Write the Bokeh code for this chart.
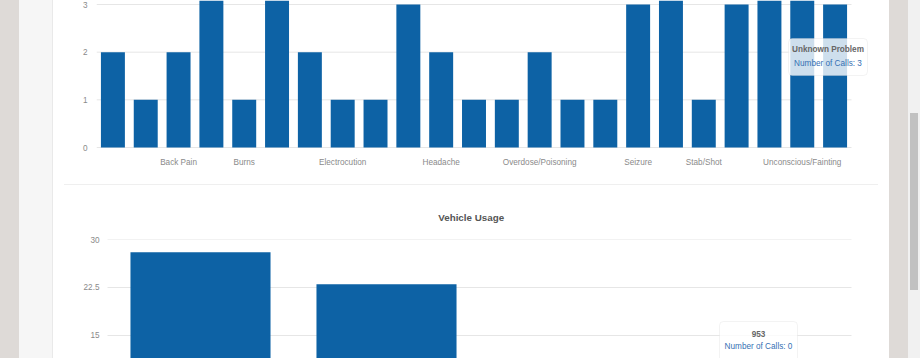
from bokeh.plotting import figure
from bokeh.models import Range1d, Div, BoxAnnotation, Label, FixedTicker, ColumnDataSource
from bokeh.layouts import row, column
from bokeh.embed import file_html
from bokeh.resources import INLINE

# ---------------- data ----------------
complaints = ["Abdominal Pain", "Allergies", "Back Pain", "Breathing Problems", "Burns",
              "Cardiac Arrest", "Chest Pain", "Electrocution", "Eye Problems", "Falls",
              "Headache", "Heart Problems", "Hemorrhage/Lacerations", "Overdose/Poisoning",
              "Pregnancy/Childbirth", "Psychiatric/Suicide", "Seizure", "Sick Person",
              "Stab/Shot", "Stroke", "Traffic Accident", "Unconscious/Fainting", "Unknown Problem"]
complaint_calls = [2, 1, 2, 4, 1, 4, 2, 1, 1, 3, 2, 1, 1, 2, 1, 1, 3, 4, 1, 3, 4, 4, 3]
shown_labels = ["Back Pain", "Burns", "Electrocution", "Headache", "Overdose/Poisoning",
                "Seizure", "Stab/Shot", "Unconscious/Fainting"]
complaint_ticks = [0, 1, 2, 3]

vehicles = ["950", "951", "952", "953"]
vehicle_calls = [28, 23, 0, 0]
vehicle_ticks = [0, 7.5, 15, 22.5, 30]

tip1_title, tip1_text = "Unknown Problem", "Number of Calls: 3"
tip2_title, tip2_text = "953", "Number of Calls: 0"

# ---------------- style ----------------
BAR = "#0d62a5"
GRID = "#e6e6e6"
LABEL = "#8a8a8a"
FONT = "Liberation Sans"
FS = "8.2px"

# shared frame geometry (both plots get identical borders so the column's
# frame alignment does not move them): frame spans page x 96..876
CARD_X = 53
BL, BR = 43, 13
FRAME_L = CARD_X + BL
FRAME_W = 836 - BL - BR


def style_axis(ax):
    ax.major_tick_line_color = None
    ax.minor_tick_line_color = None
    ax.major_tick_out = 0
    ax.major_tick_in = 0
    ax.axis_line_color = None
    ax.major_label_text_font = FONT
    ax.major_label_text_font_size = FS
    ax.major_label_text_color = LABEL


# ---------------- top chart (scrolled, top cut off) ----------------
n = len(complaints)
T_PX = 755 / n                    # pixels per category
T_L0 = 96                         # page x of first category edge
y_lo = -1 / 47.67
top = figure(x_range=Range1d(-(T_L0 - FRAME_L) / T_PX, (FRAME_L + FRAME_W - T_L0) / T_PX),
             y_range=Range1d(y_lo, 3.084),
             width=836, height=184, output_backend="svg", toolbar_location=None,
             min_border_left=BL, min_border_right=BR, min_border_top=0, min_border_bottom=36,
             background_fill_color="white", border_fill_color="white")
top.outline_line_color = None
xpos = [i + 0.5 for i in range(n)]
src1 = ColumnDataSource(dict(x=xpos, top=complaint_calls, name=complaints))
top.segment(x0=[0] * len(complaint_ticks), x1=[n] * len(complaint_ticks),
            y0=complaint_ticks, y1=complaint_ticks, line_color=GRID, line_width=1)
top.vbar(x="x", top="top", width=0.73, source=src1, fill_color=BAR, line_color=None)
top.xgrid.grid_line_color = None
top.ygrid.grid_line_color = None

top.yaxis.ticker = FixedTicker(ticks=complaint_ticks)
label_ticks = [complaints.index(c) + 0.5 for c in shown_labels]
top.xaxis.ticker = FixedTicker(ticks=label_ticks)
top.xaxis.major_label_overrides = {t: c for t, c in zip(label_ticks, shown_labels)}
style_axis(top.xaxis[0])
style_axis(top.yaxis[0])
top.yaxis.major_label_standoff = 9
top.xaxis.major_label_standoff = 9


def tx(px):
    return (px - T_L0) / T_PX


def ty(py):
    return (147 - py) / 47.67


top.add_layout(BoxAnnotation(left=tx(788), right=tx(867), top=ty(38), bottom=ty(75),
                             fill_color="white", fill_alpha=0.8, line_color="#d6d6d6",
                             line_width=1, border_radius=4))
top.add_layout(Label(x=tx(827.5), y=ty(49), text=tip1_title, text_align="center",
                     text_baseline="middle", text_font=FONT, text_font_size=FS,
                     text_font_style="bold", text_color="#666666"))
top.add_layout(Label(x=tx(827.5), y=ty(63), text=tip1_text, text_align="center",
                     text_baseline="middle", text_font=FONT, text_font_size=FS,
                     text_color="#3570b3"))

# ---------------- bottom chart (bottom cut off) ----------------
m = len(vehicles)
B_PX = 744 / m
B_L0 = 107
bot = figure(x_range=Range1d(-(B_L0 - FRAME_L) / B_PX, (FRAME_L + FRAME_W - B_L0) / B_PX),
             y_range=Range1d(11.406, 30),
             width=836, height=173, output_backend="svg", toolbar_location=None,
             min_border_left=BL, min_border_right=BR, min_border_top=54, min_border_bottom=0,
             background_fill_color="white", border_fill_color="white")
bot.outline_line_color = None
bot.title.text = "Vehicle Usage"
bot.title.align = "left"
bot.title.offset = 437.7 - FRAME_L
bot.title.standoff = 34
bot.title.text_font = FONT
bot.title.text_font_size = "9.8px"
bot.title.text_font_style = "bold"
bot.title.text_color = "#555555"
vpos = [i + 0.5 for i in range(m)]
src2 = ColumnDataSource(dict(x=vpos, top=vehicle_calls, name=vehicles))
bot.segment(x0=[0] * len(vehicle_ticks), x1=[m] * len(vehicle_ticks),
            y0=vehicle_ticks, y1=vehicle_ticks, line_color=GRID, line_width=1)
bot.vbar(x="x", top="top", bottom=0, width=0.753, source=src2, fill_color=BAR, line_color=None)
bot.xaxis.visible = False
bot.xgrid.grid_line_color = None
bot.ygrid.grid_line_color = None
bot.yaxis.ticker = FixedTicker(ticks=vehicle_ticks)
style_axis(bot.yaxis[0])
bot.yaxis.major_label_standoff = -3


def bx(px):
    return (px - B_L0) / B_PX


def by(py):
    return 30 - (py - 239) / (358 - 239) * (30 - 11.406)


bot.add_layout(BoxAnnotation(left=bx(719), right=bx(797), top=by(321), bottom=by(372),
                             fill_color="white", fill_alpha=0.8, line_color="#d6d6d6",
                             line_width=1, border_radius=4))
bot.add_layout(Label(x=bx(758), y=by(333), text=tip2_title, text_align="center",
                     text_baseline="middle", text_font=FONT, text_font_size=FS,
                     text_font_style="bold", text_color="#666666"))
bot.add_layout(Label(x=bx(758), y=by(346), text=tip2_text, text_align="center",
                     text_baseline="middle", text_font=FONT, text_font_size=FS,
                     text_color="#3570b3"))

# ---------------- page chrome ----------------
sep = Div(width=814, height=1, margin=(0, 11, 0, 11), styles={"background-color": "#efefef"})
card = column(top, sep, bot, spacing=0, margin=0, styles={"background-color": "white"})


def band(w, color, text=""):
    return Div(width=w, height=358, margin=0, text=text,
               styles={"background-color": color})


scroll = band(12, "#f1f1f1",
              "<div style='position:relative;top:113px;left:2px;width:8px;height:177px;"
              "background:#c1c1c1;'></div>")
page = row(band(19, "#dedad7"), band(33, "#f6f6f6"), band(1, "#e9e9e9"), card,
           band(19, "#dedad7"), scroll, spacing=0, margin=0)

open("out.html", "w").write(file_html(page, INLINE))
